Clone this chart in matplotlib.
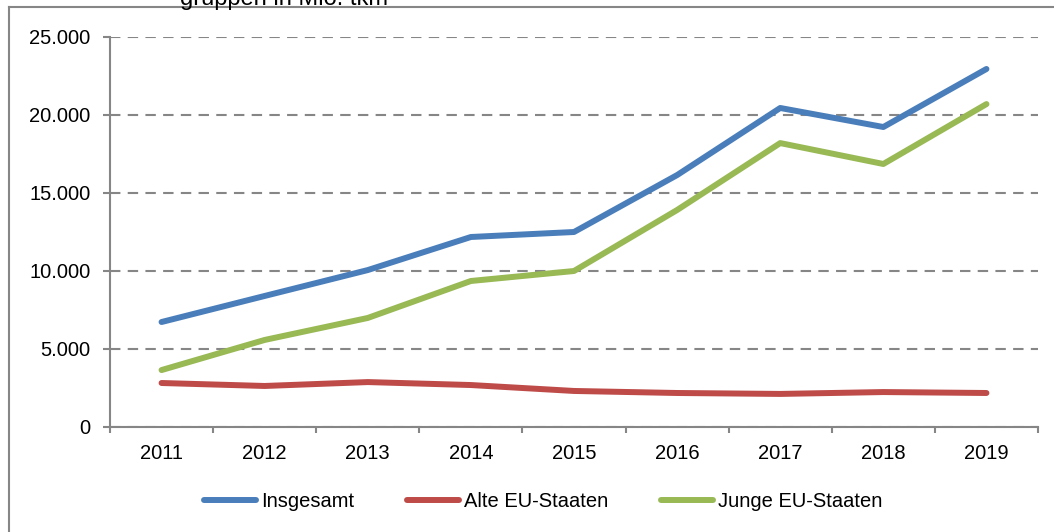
import matplotlib
matplotlib.use("Agg")
import matplotlib.pyplot as plt
from matplotlib.lines import Line2D
import numpy as np

plt.rcParams['font.family'] = ['Liberation Sans', 'DejaVu Sans']

years = ['2011', '2012', '2013', '2014', '2015', '2016', '2017', '2018', '2019']
insgesamt = [6730, 8400, 10060, 12180, 12500, 16150, 20450, 19230, 22950]
alte_eu = [2820, 2630, 2880, 2690, 2310, 2180, 2120, 2240, 2180]
junge_eu = [3650, 5580, 6990, 9360, 10000, 13910, 18200, 16860, 20700]

grey = '#868686'
fs = 14.5

fig = plt.figure(figsize=(10.54, 5.32), dpi=100)
ax = fig.add_axes([110/1054, 105/532, 928/1054, 390/532])

x = np.arange(len(years))
ax.plot(x, insgesamt, color='#4a7ebb', lw=4.3, solid_capstyle='round', label='Insgesamt')
ax.plot(x, alte_eu, color='#be4b48', lw=4.3, solid_capstyle='round', label='Alte EU-Staaten')
ax.plot(x, junge_eu, color='#98b954', lw=4.3, solid_capstyle='round', label='Junge EU-Staaten')

ax.set_xlim(-0.5, len(years) - 0.5)
ax.set_ylim(0, 25000)
ax.set_yticks(range(0, 25001, 5000))
ax.set_yticklabels(['0', '5.000', '10.000', '15.000', '20.000', '25.000'])
ax.set_xticks(x)
ax.set_xticklabels(years)
ax.set_xticks(np.arange(-0.5, len(years)), minor=True)
ax.tick_params(axis='x', which='major', length=0, pad=12, labelsize=fs)
ax.tick_params(axis='x', which='minor', length=4.5, color=grey, width=1.5, direction='out')
ax.tick_params(axis='y', length=5, color=grey, width=1.5, pad=9, labelsize=fs)

ax.grid(axis='y', color=grey, linestyle=(0, (5, 3.5)), lw=1.5)
for s in ['top', 'right']:
    ax.spines[s].set_visible(False)
for s in ['left', 'bottom']:
    ax.spines[s].set_color(grey)
    ax.spines[s].set_linewidth(1.5)
ax.spines['bottom'].set_zorder(3)

leg = ax.legend(loc='center', bbox_to_anchor=(0.4666, -0.19), ncol=3, frameon=False,
                fontsize=fs, handlelength=2.6, handletextpad=0.25, columnspacing=2.6)
for h in leg.legend_handles:
    h.set_solid_capstyle('round')

# outer chart frame
fig.add_artist(Line2D([9/1054, 9/1054], [0, 1 - 7/532], color=grey, lw=1.5))
fig.add_artist(Line2D([9/1054, 1], [1 - 7/532, 1 - 7/532], color=grey, lw=1.5))
fig.text(180/1054, 1 + 12/532, 'gruppen in Mio. tkm', fontsize=17, va='top', ha='left')

fig.savefig('out.png', dpi=100)
